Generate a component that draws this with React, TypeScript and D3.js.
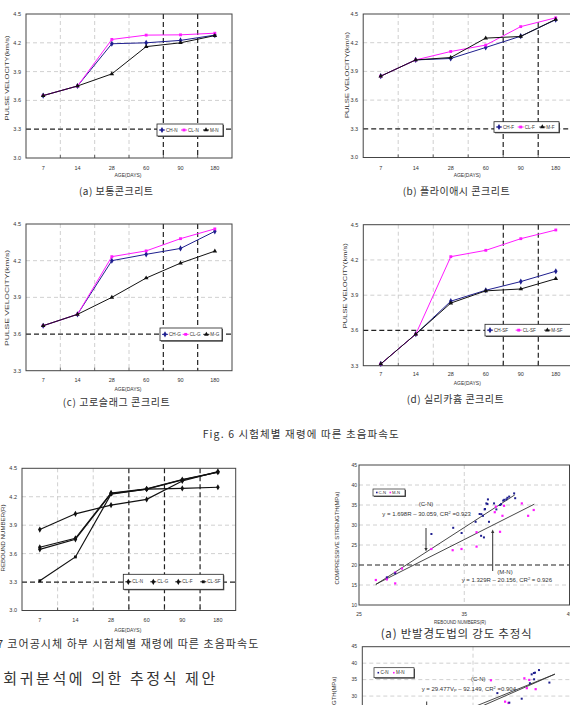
import React from "react";
import * as d3 from "d3";

// ---------- data ----------
const ages = ["7", "14", "28", "60", "90", "180"];
const ticks30 = [3.0, 3.3, 3.6, 3.9, 4.2, 4.5];
const ticks33 = [3.3, 3.6, 3.9, 4.2, 4.5];

const chN = [3.65, 3.75, 4.19, 4.2, 4.225, 4.28];
const clN = [3.65, 3.75, 4.235, 4.28, 4.283, 4.3];
const mN = [3.65, 3.75, 3.876, 4.16, 4.2, 4.275];

const chF = [3.85, 4.02, 4.035, 4.15, 4.268, 4.44];
const clF = [3.85, 4.02, 4.108, 4.175, 4.368, 4.46];
const mF = [3.85, 4.02, 4.045, 4.248, 4.265, 4.444];

const chG = [3.668, 3.761, 4.2, 4.252, 4.3, 4.44];
const clG = [3.668, 3.761, 4.233, 4.28, 4.38, 4.46];
const mG = [3.668, 3.761, 3.9, 4.058, 4.18, 4.278];

const chSF = [3.315, 3.569, 3.849, 3.942, 4.016, 4.104];
const clSF = [3.315, 3.569, 4.228, 4.282, 4.381, 4.455];
const mSF = [3.315, 3.569, 3.833, 3.937, 3.953, 4.04];

const coreN = [3.645, 3.751, 4.233, 4.28, 4.288, 4.3];
const coreG = [3.667, 3.762, 4.24, 4.283, 4.38, 4.46];
const coreF = [3.854, 4.02, 4.112, 4.172, 4.366, 4.465];
const coreSF = [3.314, 3.565, 4.226, 4.28, 4.378, 4.458];

const strengthTicks = [10, 15, 20, 25, 30, 35, 40, 45];
const reboundTicks = [25, 35, 45];

const cnRebound = [
  [27.65, 16.9], [28.44, 17.9], [31.88, 27.75], [33.95, 29.3], [34.75, 28.0],
  [36.08, 30.8], [36.46, 32.75], [36.62, 32.7], [36.78, 32.3], [36.94, 33.9],
  [37.1, 35.4], [37.25, 36.4], [37.35, 30.8], [36.6, 27.3], [36.87, 26.9],
  [37.83, 35.4], [38.05, 33.9], [38.4, 35.0], [38.5, 35.2], [38.7, 36.1],
  [38.8, 36.3], [39.0, 36.4], [39.1, 36.8], [39.27, 37.1], [39.74, 37.9],
  [39.84, 36.7], [37.2, 35.25], [36.97, 34.0],
];
const mnRebound = [
  [26.6, 16.25], [27.65, 16.4], [27.65, 16.8], [28.44, 15.4], [28.44, 18.1],
  [29.08, 19.1], [31.88, 24.0], [33.9, 23.7], [34.74, 24.0], [36.17, 24.6],
  [36.17, 28.2], [38.4, 28.3], [37.9, 33.2], [38.0, 34.6], [38.63, 32.3],
  [38.78, 34.8], [40.47, 35.4], [41.07, 32.3], [41.6, 33.75],
];
const cnFit = [1.698, -30.059];
const mnFit = [1.329, -20.156];
const fitRange = [26.6, 39.8];
const mnFitRange = [26.6, 41.65];

const cnVelocity = [
  [4.265, 36.6], [4.275, 37.0], [4.28, 37.1], [4.298, 37.9], [4.345, 34.1],
  [4.22, 29.2], [4.11, 30.9], [4.164, 28.0], [4.257, 33.9], [4.276, 35.1],
];
const mnVelocity = [
  [4.081, 34.8], [4.145, 28.3], [4.16, 27.9], [4.232, 35.4], [4.254, 34.9],
  [4.283, 32.1], [4.243, 32.4],
];
const cnVpFit = [29.477, -92.149];
const mnVpFit = [27.2, -82.2];
const vpRange = [3.62, 4.37];

// ---------- styles ----------
const NAVY = "#1f1f8f";
const MAG = "#ff1aff";
const LAT = "Liberation Sans, Arial, sans-serif";
const KR = "Noto Sans CJK KR, sans-serif";
const LIGHT = "#c4c4c4";

const sym = (type: any, size: number) => d3.symbol().type(type).size(size)()!;

function Marker({ kind, x, y, color }: any) {
  const t = kind === "d" ? d3.symbolDiamond : kind === "s" ? d3.symbolSquare : d3.symbolTriangle;
  const s = kind === "d" ? 11 : kind === "s" ? 8 : 9;
  return <path d={sym(t, s)} transform={`translate(${x},${y})`} fill={color} />;
}

function LinePanel({ p }: any) {
  const x = d3.scaleBand().domain(ages).range([p.left, p.right]);
  const y = d3.scaleLinear().domain(p.yDomain).range([p.bottom, p.top]);
  const cx = (i: number) => (x(ages[i]) as number) + x.bandwidth() / 2;
  const line = d3.line<number>().x((_, i) => cx(i)).y((d) => y(d));
  const w = p.right - p.left;
  const legendStep = p.legend.w / p.series.length;
  return (
    <g>
      {p.yTicks.slice(1, -1).map((t: number) =>
        t === p.darkH ? null : (
          <line key={"h" + t} x1={p.left} x2={p.right} y1={y(t)} y2={y(t)} stroke={LIGHT} strokeWidth={0.8} strokeDasharray="4,3" />
        )
      )}
      {ages.slice(1).map((a, i) =>
        p.darkV.includes(i + 1) ? null : (
          <line key={"v" + a} x1={x(a)} x2={x(a)} y1={p.top} y2={p.bottom} stroke={LIGHT} strokeWidth={0.8} strokeDasharray="4,3" />
        )
      )}
      <line x1={p.left} x2={p.right} y1={y(p.darkH)} y2={y(p.darkH)} stroke="#222" strokeWidth={1.2} strokeDasharray="5,3" />
      {p.darkV.map((i: number) => (
        <line key={"dv" + i} x1={x(ages[i])} x2={x(ages[i])} y1={p.top} y2={p.bottom} stroke="#222" strokeWidth={1.2} strokeDasharray="5,3" />
      ))}
      <rect x={p.left} y={p.top} width={w} height={p.bottom - p.top} fill="none" stroke="#444" strokeWidth={1} />
      {ages.slice(1).map((a) => (
        <line key={"t" + a} x1={x(a)} x2={x(a)} y1={p.bottom} y2={p.bottom - 3} stroke="#444" strokeWidth={0.8} />
      ))}
      {p.yTicks.map((t: number) => (
        <text key={"yt" + t} x={p.left - 5} y={y(t)} dy="0.35em" textAnchor="end" fontFamily={LAT} fontSize={5.5} fill="#333">
          {t.toFixed(1)}
        </text>
      ))}
      {ages.map((a, i) => (
        <text key={"xt" + a} x={cx(i)} y={p.xLabelY} textAnchor="middle" fontFamily={LAT} fontSize={5.5} fill="#333">
          {a}
        </text>
      ))}
      <text x={(p.left + p.right) / 2 - 1} y={p.ageY} textAnchor="middle" fontFamily={LAT} fontSize={5.5} fill="#333" textLength={27} lengthAdjust="spacingAndGlyphs">
        AGE(DAYS)
      </text>
      <text transform={`translate(${p.ylabelX},${p.ylabelY}) rotate(-90)`} textAnchor="middle" fontFamily={LAT} fontSize={5.8} fill="#333" textLength={p.ylabelLen} lengthAdjust="spacingAndGlyphs">
        {p.ylabel}
      </text>
      {p.series.map((s: any) => (
        <g key={s.name}>
          <path d={line(s.values)!} fill="none" stroke={s.color} strokeWidth={p.lineW || 1} />
          {s.values.map((v: number, i: number) => (
            <Marker key={i} kind={s.marker} x={cx(i)} y={y(v)} color={s.color} />
          ))}
        </g>
      ))}
      <rect x={p.legend.x + 1} y={p.legend.y + 1} width={p.legend.w} height={p.legend.h} fill="#555" />
      <rect x={p.legend.x} y={p.legend.y} width={p.legend.w} height={p.legend.h} fill="#fff" stroke="#222" strokeWidth={0.8} />
      {p.series.map((s: any, i: number) => {
        const mx = p.legend.x + 5 + i * legendStep;
        const my = p.legend.y + p.legend.h / 2;
        return (
          <g key={"lg" + s.name}>
            <line x1={mx - 3} x2={mx + 3} y1={my} y2={my} stroke={s.color} strokeWidth={1} />
            <Marker kind={s.marker} x={mx} y={my} color={s.color} />
            <text x={mx + 4} y={my} dy="0.35em" fontFamily={LAT} fontSize={4.6} fill="#333">
              {s.name}
            </text>
          </g>
        );
      })}
      {p.caption && (
        <text x={p.capX} y={p.capY} fontFamily={KR} fontSize={10} fill="#333" textLength={p.capLen} lengthAdjust="spacing">
          {p.caption}
        </text>
      )}
    </g>
  );
}

const S = (name: string, values: number[], color: string, marker: string) => ({ name, values, color, marker });

const panels = [
  {
    left: 26, right: 232, top: 14, bottom: 158, yDomain: [3.0, 4.5], yTicks: ticks30, darkH: 3.3, darkV: [4, 5],
    legend: { x: 157, y: 124, w: 66, h: 12 }, xLabelY: 170, ageY: 177, ylabel: "PULSE VELOCITY(km/s)", ylabelX: 9, ylabelY: 78, ylabelLen: 85,
    caption: "(a) 보통콘크리트", capX: 79, capY: 194.5, capLen: 74,
    series: [S("CH-N", chN, NAVY, "d"), S("CL-N", clN, MAG, "s"), S("M-N", mN, "#111", "t")],
  },
  {
    left: 363.2, right: 573.2, top: 14, bottom: 157.5, yDomain: [3.0, 4.5], yTicks: ticks30, darkH: 3.3, darkV: [4, 5],
    legend: { x: 494, y: 121.7, w: 65, h: 10.6 }, xLabelY: 170, ageY: 176.5, ylabel: "PULSE VELOCITY(km/s)", ylabelX: 349, ylabelY: 75, ylabelLen: 86,
    caption: "(b) 플라이애시 콘크리트", capX: 402.7, capY: 195, capLen: 107,
    series: [S("CH-F", chF, NAVY, "d"), S("CL-F", clF, MAG, "s"), S("M-F", mF, "#111", "t")],
  },
  {
    left: 26, right: 232, top: 224, bottom: 370.7, yDomain: [3.3, 4.5], yTicks: ticks33, darkH: 3.6, darkV: [4, 5],
    legend: { x: 160, y: 328, w: 62, h: 12.7 }, xLabelY: 381.5, ageY: 390.5, ylabel: "PULSE VELOCITY(km/s)", ylabelX: 9, ylabelY: 298, ylabelLen: 96,
    caption: "(c) 고로슬래그 콘크리트", capX: 62.7, capY: 406, capLen: 107,
    series: [S("CH-G", chG, NAVY, "d"), S("CL-G", clG, MAG, "s"), S("M-G", mG, "#111", "t")],
  },
  {
    left: 363.3, right: 573.3, top: 224.7, bottom: 365.7, yDomain: [3.3, 4.5], yTicks: ticks33, darkH: 3.6, darkV: [4, 5],
    legend: { x: 485, y: 324.3, w: 86, h: 11.7 }, xLabelY: 376, ageY: 385, ylabel: "PULSE VELOCITY(km/s)", ylabelX: 347, ylabelY: 285.7, ylabelLen: 85,
    caption: "(d) 실리카흄 콘크리트", capX: 406.7, capY: 403, capLen: 97,
    series: [S("CH-SF", chSF, NAVY, "d"), S("CL-SF", clSF, MAG, "s"), S("M-SF", mSF, "#111", "t")],
  },
  {
    left: 22, right: 235.7, top: 468.3, bottom: 610.5, yDomain: [3.0, 4.5], yTicks: ticks30, darkH: 3.3, darkV: [3, 4, 5],
    legend: { x: 123.3, y: 574.3, w: 100, h: 15 }, xLabelY: 621.5, ageY: 632, ylabel: "REBOUND NUMBER(R)", ylabelX: 4.5, ylabelY: 538, ylabelLen: 67,
    caption: null, lineW: 1.2,
    series: [S("CL-N", coreN, "#111", "d"), S("CL-G", coreG, "#111", "d"), S("CL-F", coreF, "#111", "d"), S("CL-SF", coreSF, "#111", "s")],
  },
];

function Arrow({ x, y1, y2 }: any) {
  const dir = y2 > y1 ? 1 : -1;
  return (
    <g>
      <line x1={x} x2={x} y1={y1} y2={y2 - dir * 3} stroke="#333" strokeWidth={1} />
      <path d={`M${x - 1.6},${y2 - dir * 3.5} L${x + 1.6},${y2 - dir * 3.5} L${x},${y2} Z`} fill="#333" />
    </g>
  );
}

function ScatterRebound() {
  const x = d3.scaleLinear().domain([25, 45]).range([359, 569.5]);
  const y = d3.scaleLinear().domain([10, 45]).range([605, 465]);
  const fit = (c: number[], r: number[]) => d3.line()([[x(r[0]), y(c[0] * r[0] + c[1])], [x(r[1]), y(c[0] * r[1] + c[1])]])!;
  return (
    <g>
      {strengthTicks.slice(1, -1).map((t) => (
        <line key={t} x1={359} x2={569.5} y1={y(t)} y2={y(t)} stroke={t === 20 ? "#222" : LIGHT} strokeWidth={t === 20 ? 1.2 : 0.8} strokeDasharray={t === 20 ? "5,3" : "4,3"} />
      ))}
      <line x1={x(35)} x2={x(35)} y1={465} y2={605} stroke={LIGHT} strokeWidth={0.8} strokeDasharray="4,3" />
      <rect x={359} y={465} width={210.5} height={140} fill="none" stroke="#444" strokeWidth={1} />
      {strengthTicks.map((t) => (
        <text key={t} x={357} y={y(t)} dy="0.35em" textAnchor="end" fontFamily={LAT} fontSize={5} fill="#333">{t}</text>
      ))}
      {reboundTicks.map((t) => (
        <text key={t} x={x(t)} y={616} textAnchor="middle" fontFamily={LAT} fontSize={5} fill="#333">{t}</text>
      ))}
      <text x={460} y={624} textAnchor="middle" fontFamily={LAT} fontSize={5.5} fill="#333" textLength={52} lengthAdjust="spacingAndGlyphs">REBOUND NUMBERS(R)</text>
      <text transform="translate(339,538) rotate(-90)" textAnchor="middle" fontFamily={LAT} fontSize={5.5} fill="#333" textLength={93} lengthAdjust="spacingAndGlyphs">COMPRESSIVE STRENGTH(MPa)</text>
      <path d={fit(cnFit, fitRange)} stroke="#333" strokeWidth={0.9} fill="none" />
      <path d={fit(mnFit, mnFitRange)} stroke="#333" strokeWidth={0.9} fill="none" />
      {mnRebound.map((d, i) => (
        <rect key={"m" + i} x={x(d[0]) - 1.1} y={y(d[1]) - 1.1} width={2.2} height={2.2} fill={MAG} />
      ))}
      {cnRebound.map((d, i) => (
        <rect key={"c" + i} x={x(d[0]) - 1} y={y(d[1]) - 1} width={2} height={2} fill={NAVY} />
      ))}
      <rect x={374} y={490} width={32} height={7} fill="#555" />
      <rect x={373} y={489} width={32} height={7} fill="#fff" stroke="#222" strokeWidth={0.7} />
      <rect x={376} y={491.7} width={1.6} height={1.6} fill={NAVY} />
      <text x={378.5} y={492.5} dy="0.35em" fontFamily={LAT} fontSize={4.2} fill="#333">C-N</text>
      <rect x={389.5} y={491.7} width={1.6} height={1.6} fill={MAG} />
      <text x={392} y={492.5} dy="0.35em" fontFamily={LAT} fontSize={4.2} fill="#333">M-N</text>
      <text x={426} y={505.5} textAnchor="middle" fontFamily={LAT} fontSize={6} fill="#333">(C-N)</text>
      <text x={382.3} y={515.5} fontFamily={LAT} fontSize={6} fill="#333">
        y = 1.698R – 30.059, CR<tspan dy={-2} fontSize={4}>2</tspan><tspan dy={2}> =0.923</tspan>
      </text>
      <Arrow x={426} y1={528} y2={551.5} />
      <Arrow x={492.7} y1={571} y2={529.5} />
      <text x={505} y={573.7} textAnchor="middle" fontFamily={LAT} fontSize={6} fill="#333">(M-N)</text>
      <text x={461.7} y={582} fontFamily={LAT} fontSize={6} fill="#333">
        y = 1.329R – 20.156, CR<tspan dy={-2} fontSize={4}>2</tspan><tspan dy={2}> = 0.926</tspan>
      </text>
      <text x={380.7} y={637.5} fontFamily={KR} fontSize={11.5} fill="#333" textLength={151} lengthAdjust="spacing">(a) 반발경도법의 강도 추정식</text>
    </g>
  );
}

function ScatterVelocity() {
  const x = d3.scaleLinear().domain([3.5, 4.5]).range([362.3, 583.7]);
  const y = d3.scaleLinear().domain([10, 45]).range([761.9, 646.7]);
  const fit = (c: number[]) => d3.line()([[x(vpRange[0]), y(c[0] * vpRange[0] + c[1])], [x(vpRange[1]), y(c[0] * vpRange[1] + c[1])]])!;
  return (
    <g>
      {strengthTicks.slice(1, -1).map((t) => (
        <line key={t} x1={362.3} x2={583.7} y1={y(t)} y2={y(t)} stroke={t === 20 ? "#222" : LIGHT} strokeWidth={t === 20 ? 1.2 : 0.8} strokeDasharray={t === 20 ? "5,3" : "4,3"} />
      ))}
      <line x1={x(4.0)} x2={x(4.0)} y1={646.7} y2={761.9} stroke={LIGHT} strokeWidth={0.8} strokeDasharray="4,3" />
      <rect x={362.3} y={646.7} width={221.4} height={115.2} fill="none" stroke="#444" strokeWidth={1} />
      {strengthTicks.map((t) => (
        <text key={t} x={357} y={y(t)} dy="0.35em" textAnchor="end" fontFamily={LAT} fontSize={5} fill="#333">{t}</text>
      ))}
      <text transform="translate(336,723) rotate(-90)" textAnchor="middle" fontFamily={LAT} fontSize={5.5} fill="#333" textLength={93} lengthAdjust="spacingAndGlyphs">COMPRESSIVE STRENGTH(MPa)</text>
      <path d={fit(cnVpFit)} stroke="#333" strokeWidth={0.9} fill="none" />
      <path d={fit(mnVpFit)} stroke="#333" strokeWidth={0.9} fill="none" />
      {mnVelocity.map((d, i) => (
        <rect key={"m" + i} x={x(d[0]) - 1.1} y={y(d[1]) - 1.1} width={2.2} height={2.2} fill={MAG} />
      ))}
      {cnVelocity.map((d, i) => (
        <rect key={"c" + i} x={x(d[0]) - 1} y={y(d[1]) - 1} width={2} height={2} fill={NAVY} />
      ))}
      <rect x={375} y={668.7} width={40} height={10} fill="#555" />
      <rect x={374} y={667.7} width={40} height={10} fill="#fff" stroke="#222" strokeWidth={0.7} />
      <rect x={377.5} y={671.9} width={1.6} height={1.6} fill={NAVY} />
      <text x={380.5} y={672.7} dy="0.35em" fontFamily={LAT} fontSize={4.6} fill="#333">C-N</text>
      <rect x={393} y={671.9} width={1.6} height={1.6} fill={MAG} />
      <text x={396} y={672.7} dy="0.35em" fontFamily={LAT} fontSize={4.6} fill="#333">M-N</text>
      <text x={478.3} y={681} textAnchor="middle" fontFamily={LAT} fontSize={6} fill="#333">(C-N)</text>
      <text x={421.7} y={690.5} fontFamily={LAT} fontSize={6} fill="#333">
        y = 29.477V<tspan dy={1} fontSize={4}>P</tspan><tspan dy={-1}> – 92.149, CR</tspan><tspan dy={-2} fontSize={4}>2</tspan><tspan dy={2}> =0.904</tspan>
      </text>
      <line x1={426.7} x2={426.7} y1={701.5} y2={710} stroke="#333" strokeWidth={1} />
    </g>
  );
}

export default function App() {
  return (
    <svg width={570} height={705} style={{ position: "absolute", left: 0, top: 0, background: "#fff" }}>
      <rect width={570} height={705} fill="#fff" />
      {panels.map((p, i) => (
        <LinePanel key={i} p={p} />
      ))}
      <text x={202.7} y={438} fontFamily={KR} fontSize={10.5} fill="#333" textLength={196} lengthAdjust="spacing">Fig. 6 시험체별 재령에 따른 초음파속도</text>
      <text x={-3} y={647.5} fontFamily={KR} fontSize={11} fill="#333">7</text>
      <text x={7.3} y={647.5} fontFamily={KR} fontSize={11} fill="#333" textLength={251} lengthAdjust="spacing">코어공시체 하부 시험체별 재령에 따른 초음파속도</text>
      <text x={3.3} y={684} fontFamily={KR} fontSize={15} fill="#333" textLength={212} lengthAdjust="spacing">회귀분석에 의한 추정식 제안</text>
      <ScatterRebound />
      <ScatterVelocity />
    </svg>
  );
}
